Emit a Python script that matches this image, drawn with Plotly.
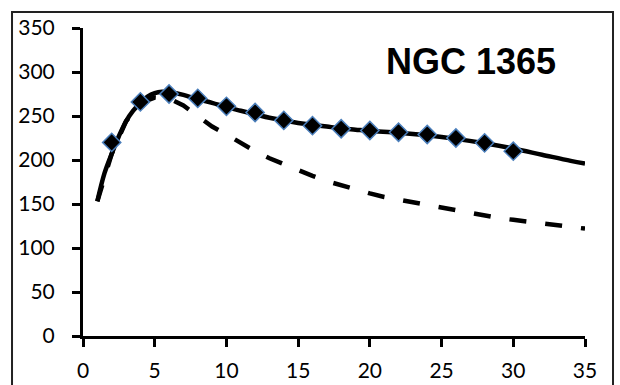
import plotly.graph_objects as go

# Observed rotation velocities (km/s) at radius (kpc)
obs_r = [2, 4, 6, 8, 10, 12, 14, 16, 18, 20, 22, 24, 26, 28, 30]
obs_v = [220, 266, 275, 270, 261, 254, 245, 239, 235.5, 233.5, 231.5, 229, 225, 219.5, 210]

# Model rotation curve (solid)
model_r = [1, 1.5, 2, 2.5, 3, 3.5, 4, 4.5, 5, 5.5, 6, 7, 8, 9, 10, 11, 12, 13, 14, 15,
           16, 17, 18, 19, 20, 22, 24, 26, 28, 30, 32, 34, 35]
model_v = [153, 185, 207, 227, 244, 256, 265, 272, 276, 277.5, 277, 274, 269, 265, 260,
           256, 252, 248, 245, 242, 240, 238, 236, 234.5, 233, 231, 228, 224, 219, 213,
           206, 199, 196]

# Keplerian-like decline (dashed)
kep_r = [1, 2, 3, 4, 5, 6, 7, 8, 9, 10, 11, 12, 13, 14, 15, 16, 17, 18, 19, 20, 21, 22,
         23, 24, 25, 26, 27, 28, 29, 30, 31, 32, 33, 34, 35]
kep_v = [153, 207, 244, 265, 271, 270, 262, 250, 238, 229, 219, 210, 202, 195, 189, 182,
         176, 171, 166, 162, 158, 155, 152, 148, 145, 142, 139, 137, 134, 132, 130, 128,
         126, 124, 122]

x_ticks = [0, 5, 10, 15, 20, 25, 30, 35]
y_ticks = [0, 50, 100, 150, 200, 250, 300, 350]

fig = go.Figure()
fig.add_trace(go.Scatter(x=kep_r, y=kep_v, mode="lines",
                         line=dict(color="black", width=4.5, dash="17px,19px")))
fig.add_trace(go.Scatter(x=model_r, y=model_v, mode="lines",
                         line=dict(color="black", width=4.5, shape="spline")))
fig.add_trace(go.Scatter(x=obs_r, y=obs_v, mode="markers",
                         marker=dict(symbol="diamond", size=14, color="black",
                                     line=dict(color="#4a7ebb", width=1.5))))

axis_font = dict(family="Lato, Open Sans, sans-serif", size=21, color="black")
fig.update_xaxes(range=[0, 35], tickvals=x_ticks, showgrid=False, zeroline=False,
                 showline=True, linecolor="black", linewidth=3,
                 ticks="outside", ticklen=8, tickwidth=3, tickcolor="black",
                 tickfont=axis_font, ticklabelstandoff=6, automargin=False)
fig.update_yaxes(range=[0, 350], tickvals=y_ticks, showgrid=False, zeroline=False,
                 showline=True, linecolor="black", linewidth=3,
                 ticks="outside", ticklen=8, tickwidth=3, tickcolor="black",
                 tickfont=axis_font, ticklabelstandoff=13, automargin=False)

fig.add_annotation(text="<b>NGC 1365</b>", xref="paper", yref="paper",
                   x=0.773, y=0.89, showarrow=False, xanchor="center", yanchor="middle",
                   font=dict(family="Liberation Sans, Arial, sans-serif", size=36, color="black"))

# Outer frame around the chart
fig.add_shape(type="rect", xref="paper", yref="paper",
              x0=-0.1414, x1=1.0558, y0=-0.2, y1=1.052,
              line=dict(color="#222222", width=2))

fig.update_layout(width=620, height=385, showlegend=False,
                  paper_bgcolor="white", plot_bgcolor="white",
                  margin=dict(l=83, r=35, t=28, b=49))

fig.write_html("out.html")
